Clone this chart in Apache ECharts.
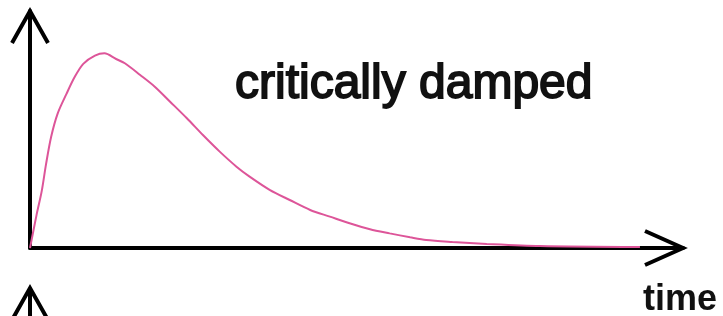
<!DOCTYPE html>
<html>
<head>
<meta charset="utf-8">
<title>critically damped</title>
<script src="https://cdn.jsdelivr.net/npm/echarts@6/dist/echarts.min.js"></script>
<style>
html, body { margin: 0; padding: 0; background: #fff; }
#chart { width: 723px; height: 316px; }
</style>
</head>
<body>
<div id="chart"></div>
<script>
// response curve (time in units of the time constant, response relative to the peak)
var timeValues = [0, 0.09, 0.16, 0.22, 0.29, 0.38, 0.5, 0.61, 0.73, 0.89, 1.02, 1.18, 1.3, 1.51, 1.71, 1.92, 2.15, 2.37, 2.6, 2.83, 3.01, 3.29, 3.56, 3.84, 4.11, 4.38, 4.66, 4.93, 5.21, 5.43, 5.79, 6.26, 6.99, 8.36];
var responseValues = [0, 0.17, 0.29, 0.43, 0.57, 0.69, 0.79, 0.875, 0.944, 0.986, 0.998, 0.969, 0.947, 0.887, 0.827, 0.75, 0.665, 0.579, 0.494, 0.417, 0.366, 0.297, 0.246, 0.195, 0.161, 0.127, 0.096, 0.075, 0.055, 0.041, 0.031, 0.021, 0.01, 0.005];
var curveLabel = 'critically damped';
var xAxisLabel = 'time';

// axis extents (arrow tips)
var xMax = 8.95;
var yMax = 1.215;

var chart = echarts.init(document.getElementById('chart'));

var points = [];
for (var i = 0; i < timeValues.length; i++) {
    points.push([timeValues[i], responseValues[i]]);
}

var axisStyle = { show: true, lineStyle: { color: '#000', width: 4 } };

var option = {
    animation: false,
    grid: { left: 30, right: 40, top: 11, bottom: 68, containLabel: false },
    xAxis: {
        type: 'value', min: 0, max: xMax,
        axisLine: axisStyle,
        axisTick: { show: false }, axisLabel: { show: false }, splitLine: { show: false }
    },
    yAxis: {
        type: 'value', min: 0, max: yMax,
        axisLine: axisStyle,
        axisTick: { show: false }, axisLabel: { show: false }, splitLine: { show: false }
    },
    series: [{
        type: 'line',
        name: curveLabel,
        data: points,
        smooth: 0.3,
        showSymbol: false,
        lineStyle: { color: '#dd5599', width: 2 }
    }]
};
chart.setOption(option);

// arrow heads and labels placed from the axis scales
var origin = chart.convertToPixel({ gridIndex: 0 }, [0, 0]);
var xTip = chart.convertToPixel({ gridIndex: 0 }, [xMax, 0]);
var yTip = chart.convertToPixel({ gridIndex: 0 }, [0, yMax]);
var ox = origin[0], oy = origin[1];
var arrowStyle = { stroke: '#000', lineWidth: 4, fill: null, lineJoin: 'miter' };

chart.setOption({
    graphic: [
        // y arrow
        { type: 'polyline', z: 10, shape: { points: [[ox - 18, yTip[1] + 32], [ox, yTip[1]], [ox + 18, yTip[1] + 32]] }, style: arrowStyle },
        // x arrow
        { type: 'polyline', z: 10, shape: { points: [[xTip[0] - 38, oy - 17], [xTip[0], oy], [xTip[0] - 38, oy + 17]] }, style: arrowStyle },
        // top of the next figure's axis
        { type: 'polyline', z: 10, shape: { points: [[ox - 18, oy + 72], [ox, oy + 40], [ox + 18, oy + 72]] }, style: arrowStyle },
        { type: 'line', z: 10, shape: { x1: ox, y1: oy + 40, x2: ox, y2: oy + 80 }, style: arrowStyle },
        {
            type: 'text', z: 10, x: 235, y: 85,
            style: {
                text: curveLabel, fill: '#111', verticalAlign: 'middle',
                font: '48px "Liberation Sans", Arial, sans-serif',
                stroke: '#111', lineWidth: 1.8
            }
        },
        {
            type: 'text', z: 10, x: 643, y: 300,
            style: {
                text: xAxisLabel, fill: '#111', verticalAlign: 'middle',
                font: 'bold 36px "Liberation Sans", Arial, sans-serif'
            }
        }
    ]
});

window.onresize = function() {
    chart.resize();
};
</script>
</body>
</html>
